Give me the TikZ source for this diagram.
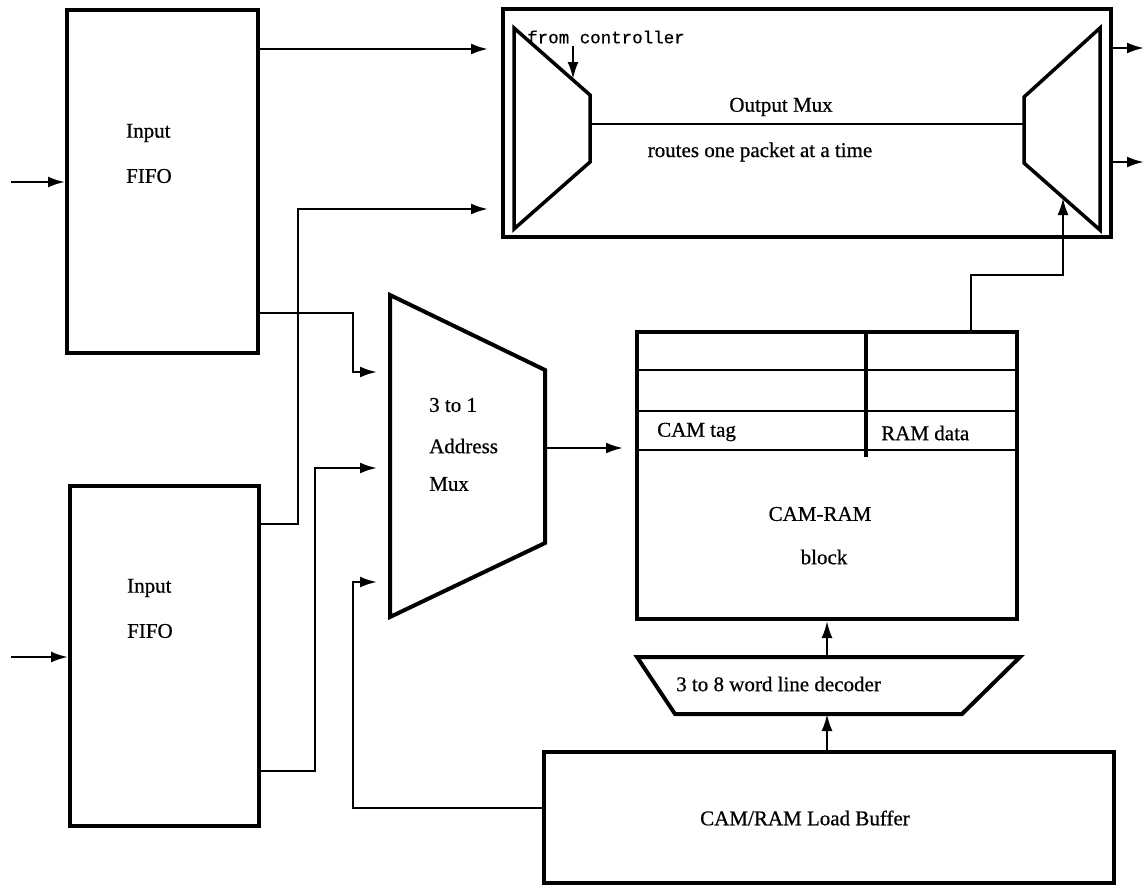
\documentclass[tikz,border=0pt]{standalone}
\usepackage{fontspec}
\setmainfont{Liberation Serif}[FakeBold=0.6]
\newfontfamily\codefont{Liberation Mono}[FakeBold=0.6]
\usetikzlibrary{arrows.meta}
\begin{document}
\begin{tikzpicture}[x=1pt,y=-1pt,
  box/.style={draw, line width=4pt, inner sep=0pt},
  trap/.style={draw, line width=3.5pt, line join=miter},
  wire/.style={line width=2.4pt},
  arr/.style={wire, -{Latex[length=17pt,width=11pt]}},
  lbl/.style={font=\fontsize{21}{24}\selectfont, inner sep=0pt, anchor=west},
  clbl/.style={font=\fontsize{21}{24}\selectfont, inner sep=0pt},
  code/.style={font=\codefont\fontsize{17.5}{20}\selectfont, inner sep=0pt, anchor=west},
]
\useasboundingbox (0,0) rectangle (1144,886);
\fill[white] (0,0) rectangle (1144,886);

% ---------- Input FIFOs ----------
\node[box, minimum width=191pt, minimum height=343pt] (fifoA) at (162.5,181.5) {};
\node[lbl] (fifoAt1) at (126,133) {Input};
\node[lbl] (fifoAt2) at (126,176) {FIFO};
\node[box, minimum width=189pt, minimum height=340pt] (fifoB) at (164.5,656) {};
\node[lbl] (fifoBt1) at (127,588) {Input};
\node[lbl] (fifoBt2) at (127,631) {FIFO};

\coordinate (inA) at (11,182);
\coordinate (inB) at (11,657);
\draw[arr] (inA) -- (inA -| fifoA.west);
\draw[arr] (inB) -- (inB -| fifoB.west);

% ---------- Output Mux ----------
\node[box, minimum width=608pt, minimum height=228pt] (omux) at (807,123) {};
\coordinate (lt1) at (514,28);
\coordinate (lt2) at (590,95);
\coordinate (lt3) at (590,162);
\coordinate (lt4) at (514,229);
\draw[trap] (lt1) -- (lt2) -- (lt3) -- (lt4) -- cycle;
\coordinate (rt1) at (1100,28);
\coordinate (rt2) at (1024,97);
\coordinate (rt3) at (1024,163);
\coordinate (rt4) at (1100,230);
\draw[trap] (rt1) -- (rt2) -- (rt3) -- (rt4) -- cycle;
\coordinate (bus1) at (590,124);
\coordinate (bus2) at (1024,124);
\draw[wire] (bus1) -- (bus2);
\node[clbl] (omuxt1) at (781,107) {Output Mux};
\node[clbl] (omuxt2) at (760,152) {routes one packet at a time};
\node[code] (ctrl) at (527,37) {from controller};
\coordinate (ctrlA) at (573,46);
\coordinate (ctrlB) at (573,79);
\draw[arr] (ctrlA) -- (ctrlB);

\coordinate (omin1) at (488,49);
\coordinate (omin2) at (488,209);
\coordinate (oo1) at (1144,48);
\coordinate (oo2) at (1144,162);
\draw[arr] (omux.east |- oo1) -- (oo1);
\draw[arr] (omux.east |- oo2) -- (oo2);

% ---------- Address Mux ----------
\coordinate (mTL) at (390,295);
\coordinate (mTR) at (545,370);
\coordinate (mBR) at (545,543);
\coordinate (mBL) at (390,617);
\draw[trap, line width=4pt] (mTL) -- (mTR) -- (mBR) -- (mBL) -- cycle;
\node[lbl] (muxt1) at (429,405) {3 to 1};
\node[lbl] (muxt2) at (429,446) {Address};
\node[lbl] (muxt3) at (429,484) {Mux};
\coordinate (mi1) at (377,372);
\coordinate (mi2) at (377,468);
\coordinate (mi3) at (377,582);
\coordinate (mo) at (545,448);
\coordinate (cri) at (623,448);

% ---------- CAM-RAM block ----------
\node[box, minimum width=380pt, minimum height=287pt] (cam) at (827,475.5) {};
\coordinate (r1) at (637,370);
\coordinate (r2) at (637,411);
\coordinate (r3) at (637,450);
\draw[wire] (r1) -- (r1 -| cam.east);
\draw[wire] (r2) -- (r2 -| cam.east);
\draw[wire] (r3) -- (r3 -| cam.east);
\coordinate (dvT) at (866,334);
\coordinate (dvB) at (866,457);
\draw[line width=3.5pt] (dvT) -- (dvB);
\node[lbl] (camtag) at (657,432) {CAM tag};
\node[lbl] (ramdata) at (881,433) {RAM data};
\node[clbl] (camt1) at (820,514) {CAM-RAM};
\node[clbl] (camt2) at (824,557) {block};

% ---------- Decoder ----------
\coordinate (dTL) at (637,657);
\coordinate (dTR) at (1020,657);
\coordinate (dBR) at (962,714);
\coordinate (dBL) at (675,714);
\draw[trap, line width=4pt] (dTL) -- (dTR) -- (dBR) -- (dBL) -- cycle;
\node[lbl] (dect) at (676,684) {3 to 8 word line decoder};
\coordinate (decT) at (827,657);
\coordinate (decB) at (827,714);

% ---------- Load buffer ----------
\node[box, minimum width=570pt, minimum height=131pt] (buf) at (829,817.5) {};
\node[clbl] (buft) at (805,818) {CAM/RAM Load Buffer};

% ---------- Connectors ----------
\draw[arr] (fifoA.east |- omin1) -- (omin1);
\coordinate (b1) at (298,524);
\draw[arr] (fifoB.east |- b1) -- (b1) -- (b1 |- omin2) -- (omin2);
\coordinate (a2) at (353,313);
\draw[arr] (fifoA.east |- a2) -- (a2) -- (a2 |- mi1) -- (mi1);
\coordinate (b2) at (315,771);
\draw[arr] (fifoB.east |- b2) -- (b2) -- (b2 |- mi2) -- (mi2);
\coordinate (c1) at (353,808);
\draw[arr] (buf.west |- c1) -- (c1) -- (c1 |- mi3) -- (mi3);
\draw[arr] (mo) -- (cri);
\draw[arr] (buf.north -| decB) -- (decB);
\draw[arr] (decT) -- (decT |- cam.south);
\coordinate (k1) at (971,275);
\coordinate (k2) at (1063,198);
\draw[arr] (cam.north -| k1) -- (k1) -- (k1 -| k2) -- (k2);
\end{tikzpicture}
\end{document}
